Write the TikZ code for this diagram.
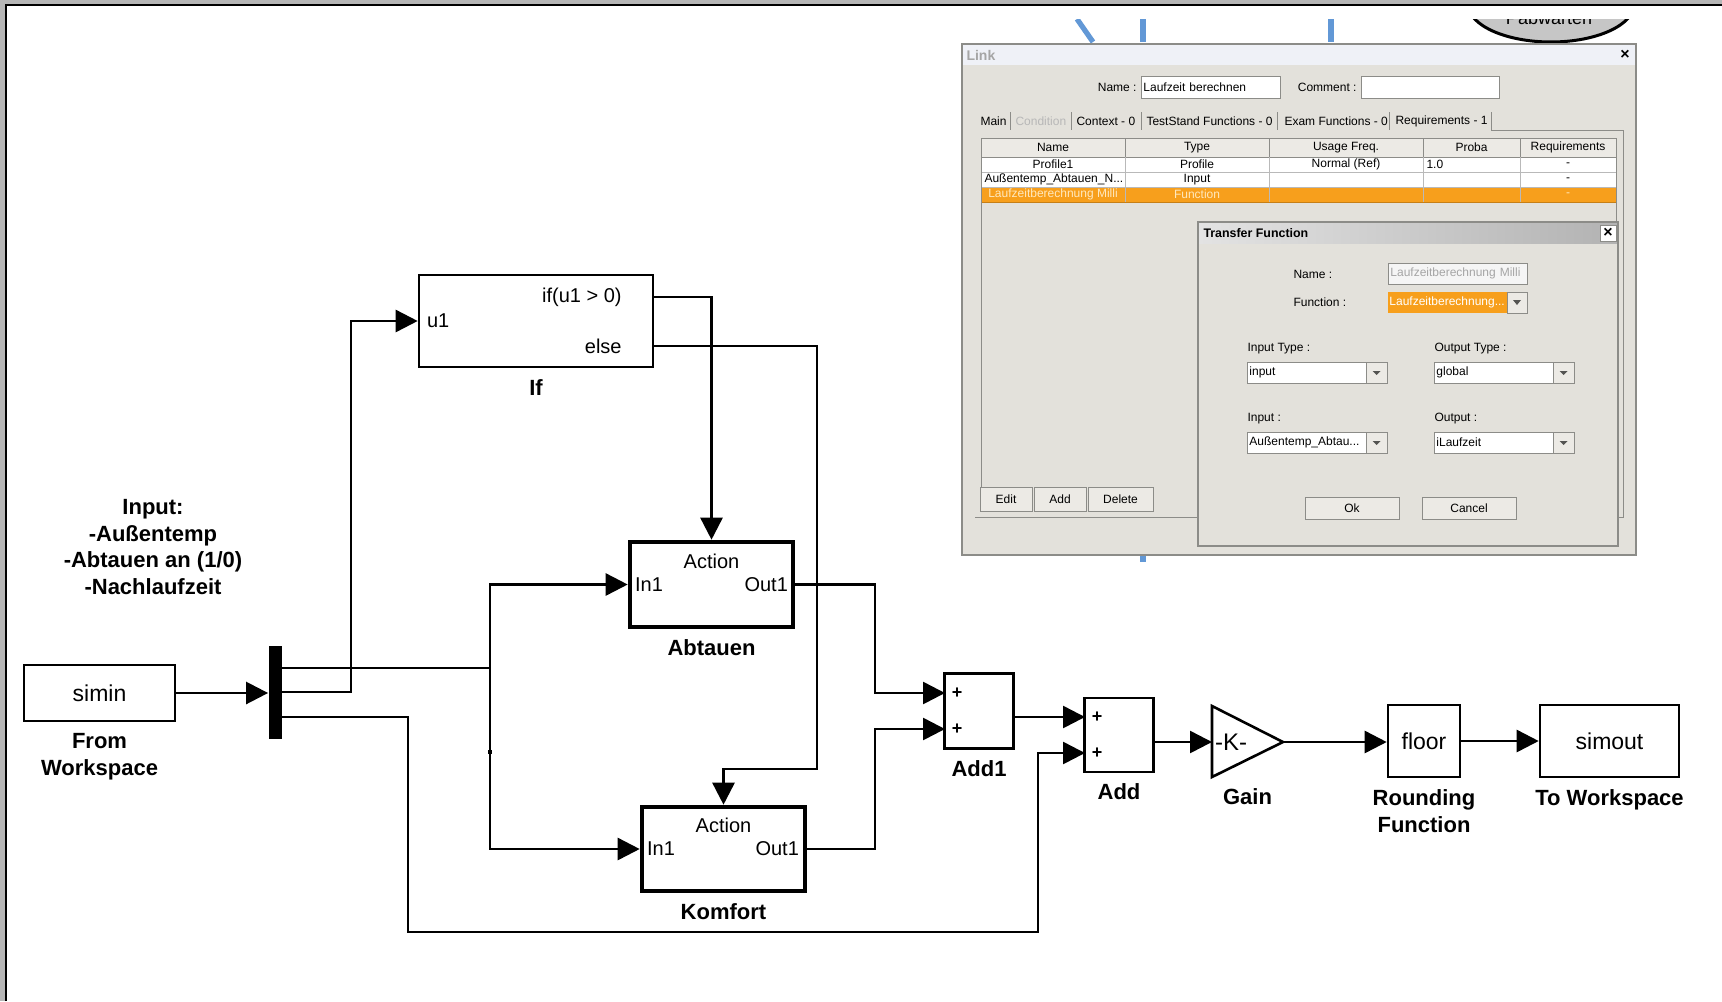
\documentclass[tikz,border=0pt]{standalone}
\usepackage{fontspec}
\setmainfont{Liberation Sans}
\usetikzlibrary{arrows.meta,positioning,calc}

\definecolor{framegray}{RGB}{182,182,182}
\definecolor{dlgbg}{RGB}{227,225,219}
\definecolor{dlgtitle}{RGB}{239,241,247}
\definecolor{dlgline}{RGB}{140,140,136}
\definecolor{btnface}{RGB}{236,234,229}
\definecolor{selorange}{RGB}{247,159,28}
\definecolor{seltext}{RGB}{255,232,190}
\definecolor{pipeblue}{RGB}{98,152,214}
\definecolor{greytext}{RGB}{165,165,165}

\newcommand{\dlgfont}{\fontsize{6}{7}\selectfont}

\begin{document}
\begin{tikzpicture}[
            x = 0.5pt, y = -0.5pt, % one unit = one screenshot pixel
            > = {Triangle[length=11pt,width=11pt]}, % simulink arrow head
            line join = miter
        ]

        \tikzstyle{signal}=[->, line width = 1.3pt]
        \tikzstyle{block}=[
            draw = black,
            line width = 1.3pt,
            fill = white,
            inner sep = 0pt,
            font = \fontsize{11.5}{13}\selectfont
        ]
        \tikzstyle{subsystem}=[block, line width = 2.3pt]
        \tikzstyle{blockname}=[
            inner sep = 0pt,
            align = center,
            font = \bfseries\fontsize{11}{13.5}\selectfont
        ]
        \tikzstyle{port}=[inner sep = 1pt, font = \fontsize{10}{12}\selectfont]
        \tikzstyle{plus}=[inner sep = 0pt, font = \bfseries\fontsize{9}{10}\selectfont]
        \tikzstyle{dlgtext}=[inner sep = 0pt, font = \dlgfont]
        \tikzstyle{field}=[draw = dlgline, fill = white, line width = 0.4pt,
            inner xsep = 1pt, inner ysep = 0pt, minimum height = 10.5pt,
            align = left, anchor = west, font = \dlgfont]

        \useasboundingbox (0,0) rectangle (1722,1001);
        \fill[white] (0,0) rectangle (1722,1001);

        % window frame
        \fill[framegray] (0,0) rectangle (1722,4);
        \fill[framegray] (0,0) rectangle (5,1001);
        \draw[line width=1.1pt] (6,1001) -- (6,5) -- (1722,5);

        % blocks
        \node[block, minimum width=75.5pt, minimum height=28pt] (simin) at (99.5,693) {simin};
        \node[fill, inner sep=0pt, minimum width=6.5pt, minimum height=46.5pt] (demux) at (275,692.5) {};
        \node[block, minimum width=117pt, minimum height=46pt] (if) at (536,321) {};
        \node[subsystem, minimum width=81.5pt, minimum height=42.5pt] (abt) at (711.5,584.5) {};
        \node[subsystem, minimum width=81.5pt, minimum height=42pt] (kom) at (723.5,849) {};
        \node[block, minimum width=34.5pt, minimum height=37.5pt] (add1) at (979,711) {};
        \node[block, minimum width=34.5pt, minimum height=37pt] (add) at (1119,735) {};
        \draw[block] (1212,706) -- (1283,742) -- (1212,777) -- cycle;
        \node[block, minimum width=36pt, minimum height=36pt] (floor) at (1424,741) {floor};
        \node[block, minimum width=69.5pt, minimum height=36pt] (simout) at (1609.5,741) {simout};

        % ports
        \coordinate (demux-o1) at (281,668);
        \coordinate (demux-o2) at (281,692);
        \coordinate (demux-o3) at (281,717);
        \coordinate (if-o1) at (653,297);
        \coordinate (if-o2) at (653,346);
        \coordinate (add1-i1) at (945,693);
        \coordinate (add1-i2) at (945,729);
        \coordinate (add1-o) at (1014,717);
        \coordinate (add-i1) at (1085,717);
        \coordinate (add-i2) at (1085,753);
        \coordinate (add-o) at (1154,742);
        \coordinate (gain-i) at (1212,742);
        \coordinate (gain-o) at (1283,742);
        \coordinate (gain-base) at (1247.5,777);
        \coordinate (fork) at (490,668);
        \coordinate (else-turn) at (817,769);
        \coordinate (low-turn) at (408,932);

        % text inside the blocks
        \node[port, anchor=west] (if-u1) at ([xshift=3.5pt]if.west) {u1};
        \node[port, anchor=east] (if-then) at ([xshift=-14.5pt]if-o1) {if(u1 > 0)};
        \node[port, anchor=east] (if-else) at ([xshift=-14.5pt]if-o2) {else};
        \node[port] (abt-action) at ([yshift=-11pt]abt.north) {Action};
        \node[port, anchor=west] (abt-in) at ([xshift=2.5pt]abt.west) {In1};
        \node[port, anchor=east] (abt-out) at ([xshift=-2.5pt]abt.east) {Out1};
        \node[port] (kom-action) at ([yshift=-10.5pt]kom.north) {Action};
        \node[port, anchor=west] (kom-in) at ([xshift=2.5pt]kom.west) {In1};
        \node[port, anchor=east] (kom-out) at ([xshift=-3pt]kom.east) {Out1};
        \node[plus] (add1-p1) at (957,693) {+};
        \node[plus] (add1-p2) at (957,729) {+};
        \node[plus] (add-p1) at (1097,717) {+};
        \node[plus] (add-p2) at (1097,753) {+};
        \node[inner sep=0pt, font=\fontsize{12}{13}\selectfont] (gain) at (1231,742) {-K-};

        % block names
        \node[blockname, below=5.5pt of simin] (simin-name) {From\\Workspace};
        \node[blockname, below=5.5pt of if] (if-name) {If};
        \node[blockname, below=5pt of abt] (abt-name) {Abtauen};
        \node[blockname, below=5pt of kom] (kom-name) {Komfort};
        \node[blockname, below=5pt of add1] (add1-name) {Add1};
        \node[blockname, below=5pt of add] (add-name) {Add};
        \node[blockname, below=5.5pt of gain-base] (gain-name) {Gain};
        \node[blockname, below=5.5pt of floor] (floor-name) {Rounding\\Function};
        \node[blockname, below=5.5pt of simout] (simout-name) {To Workspace};
        \node[blockname, font=\bfseries\fontsize{11}{13.25}\selectfont] (input-note) at (153,547)
            {Input:\\-Außentemp\\-Abtauen an (1/0)\\-Nachlaufzeit};

        % signals
        \draw[signal] (simin.east) -- (simin.east -| demux.west);
        \draw[signal] (demux-o2) -- ++(70,0) |- (if.west);
        \draw[signal] (demux-o1) -- (fork) |- (abt.west);
        \draw[signal] (fork) |- (kom.west);
        \fill (488,750) rectangle (492,754);
        \draw[signal] (demux-o3) -| (low-turn) -| ([xshift=-23.5pt]add-i2) -- (add-i2);
        \draw[signal] (if-o1) -| (abt.north);
        \draw[signal] (if-o2) -| (else-turn) -| (kom.north);
        \draw[signal] (abt.east) -| ([xshift=-35pt]add1-i1) -- (add1-i1);
        \draw[signal] (kom.east) -| ([xshift=-35pt]add1-i2) -- (add1-i2);
        \draw[signal] (add1-o) -- (add-i1);
        \draw[signal] (add-o) -- (gain-i);
        \draw[signal] (gain-o) -- (gain-o -| floor.west);
        \draw[signal] (floor.east) -- (simout.west);

        % screenshot of the link editor
        \begin{scope}[line width=0.5pt]
            \clip (7,19) rectangle (1722,1001);
            \draw[pipeblue, line width=2.6pt] (1077,19) -- (1093,42);
            \draw[pipeblue, line width=2.6pt] (1143,19) -- (1143,42);
            \draw[pipeblue, line width=2.6pt] (1331,19) -- (1331,42);
            \draw[fill=gray!45, line width=1.5pt] (1551,4) ellipse [x radius=41.5pt, y radius=19pt];
            \node[anchor=base, inner sep=0pt, font=\fontsize{9}{10}\selectfont] (state-name) at (1549,25) {Pabwarten};

            % link dialog
            \fill[dlgbg] (962,44) rectangle (1636,555);
            \fill[dlgtitle] (963,45) rectangle (1635,65);
            \draw[dlgline, line width=0.6pt] (962,44) rectangle (1636,555);
            \node[dlgtext, anchor=west, text=greytext, font=\bfseries\fontsize{7}{8}\selectfont] (link-title) at (966,55) {Link};
            \node[dlgtext, font=\bfseries\fontsize{8}{9}\selectfont] (link-close) at (1625,55) {×};
            \node[dlgtext, anchor=east] (link-name-lbl) at (1137,87) {Name :};
            \node[field, minimum height=11pt, text width=67.5pt] (link-name) at (1141,87) {Laufzeit berechnen};
            \node[dlgtext, anchor=east] (link-comment-lbl) at (1357,87) {Comment :};
            \node[field, minimum height=11pt, text width=67pt] (link-comment) at (1361,87) {};

            \foreach \tx/\tab [count=\i] in {980/Main, 1076/Context - 0, 1146/TestStand Functions - 0, 1284/Exam Functions - 0, 1395/Requirements - 1}
                \node[dlgtext, anchor=west] (tab\i) at (\tx,121) {\tab};
            \node[dlgtext, anchor=west, text=greytext!80] (tab-cond) at (1015,121) {Condition};
            \foreach \x in {1010,1071,1141,1277,1389,1491}
                \draw[dlgline] (\x,112) -- (\x,130);
            \draw[dlgline] (1491,130) -- (1623,130) -- (1623,517) -- (975,517);

            % table
            \fill[white] (981,157) rectangle (1616,187);
            \fill[selorange] (981,187) rectangle (1616,202);
            \foreach \xa/\xb/\head [count=\i] in {981/1125/Name, 1125/1269/Type, 1269/1423/{Usage Freq.}, 1423/1520/Proba, 1520/1616/Requirements} {
                \draw[dlgline, fill=btnface] (\xa,138) rectangle (\xb,157);
                \node[dlgtext] (head\i) at ({(\xa+\xb)/2},147.5) {\head};
                \draw[gray!55] (\xa,157) -- (\xa,202);
            }
            \draw[gray!55] (981,172) -- (1616,172);
            \draw[gray!55] (981,187) -- (1616,187);
            \draw[selorange!80!black] (981,202) -- (1616,202);
            \draw[dlgline] (981,138) -- (981,487);
            \draw[dlgline] (1616,138) -- (1616,222);
            \node[dlgtext] (r1c1) at (1053,164.5) {Profile1};
            \node[dlgtext] (r1c2) at (1197,164.5) {Profile};
            \node[dlgtext] (r1c3) at (1346,164.5) {Normal (Ref)};
            \node[dlgtext, anchor=west] (r1c4) at (1426,164.5) {1.0};
            \node[dlgtext] (r1c5) at (1568,164.5) {-};
            \node[dlgtext, anchor=west] (r2c1) at (984,179.5) {Außentemp\_Abtauen\_N...};
            \node[dlgtext] (r2c2) at (1197,179.5) {Input};
            \node[dlgtext] (r2c5) at (1568,179.5) {-};
            \node[dlgtext, text=seltext] (r3c1) at (1053,194.5) {Laufzeitberechnung Milli};
            \node[dlgtext, text=seltext] (r3c2) at (1197,194.5) {Function};
            \node[dlgtext, text=seltext] (r3c5) at (1568,194.5) {-};

            \foreach \xa/\xb/\btn [count=\i] in {980/1032/Edit, 1034/1086/Add, 1088/1153/Delete} {
                \draw[dlgline, fill=btnface] (\xa,487) rectangle (\xb,511);
                \node[dlgtext] (btn\i) at ({(\xa+\xb)/2},499) {\btn};
            }
            \draw[pipeblue, line width=2.6pt] (1143,556) -- (1143,562);

            % transfer function dialog
            \fill[dlgbg] (1198,222) rectangle (1618,546);
            \shade[left color=gray!22, right color=gray!60] (1199,223) rectangle (1617,243);
            \draw[dlgline, line width=0.7pt] (1198,222) rectangle (1618,546);
            \node[dlgtext, anchor=west, font=\bfseries\fontsize{6.2}{8}\selectfont] (tf-title) at (1203,233) {Transfer Function};
            \draw[dlgline, fill=white] (1600,225) rectangle (1616,241);
            \node[dlgtext, font=\bfseries\fontsize{8}{9}\selectfont] (tf-close) at (1608,233) {×};

            \node[dlgtext, anchor=west] (tf-name-lbl) at (1293,274) {Name :};
            \node[field, fill=gray!8, text=greytext, text width=67.5pt] (tf-name) at (1388,273.5) {Laufzeitberechnung Milli};
            \node[dlgtext, anchor=west] (tf-func-lbl) at (1293,302) {Function :};
            \node[field, draw=none, fill=selorange, text=white, inner xsep=0.5pt, text width=58.5pt] (tf-func) at (1388,302.5) {Laufzeitberechnung...};
            \draw[dlgline, fill=btnface] (1507,292) rectangle (1527,313);
            \fill[dlgline!60!black] (1513,300) -- (1521,300) -- (1517,305) -- cycle;

            \node[dlgtext, anchor=west] (tf-intype-lbl) at (1247,349) {Input Type :};
            \node[dlgtext, anchor=west] (tf-outtype-lbl) at (1434,349) {Output Type :};
            \node[dlgtext, anchor=west] (tf-in-lbl) at (1247,419) {Input :};
            \node[dlgtext, anchor=west] (tf-out-lbl) at (1434,419) {Output :};
            \foreach \cx/\cy/\val [count=\i] in {1247/372.5/input, 1434/372.5/global, 1247/442.5/{Außentemp\_Abtau...}, 1434/442.5/iLaufzeit} {
                \node[field, text width=57.5pt] (combo\i) at (\cx,\cy) {\val};
                \draw[dlgline, fill=btnface] ({\cx+119},{\cy-10.5}) rectangle ({\cx+140},{\cy+10.5});
                \fill[dlgline!60!black] ({\cx+125.5},{\cy-1.5}) -- ({\cx+133.5},{\cy-1.5}) -- ({\cx+129.5},{\cy+2.5}) -- cycle;
            }
            \foreach \xa/\xb/\btn [count=\i] in {1305/1399/Ok, 1422/1516/Cancel} {
                \draw[dlgline, fill=btnface] (\xa,497) rectangle (\xb,519);
                \node[dlgtext] (tf-btn\i) at ({(\xa+\xb)/2},508) {\btn};
            }
        \end{scope}

    \end{tikzpicture}
\end{document}
